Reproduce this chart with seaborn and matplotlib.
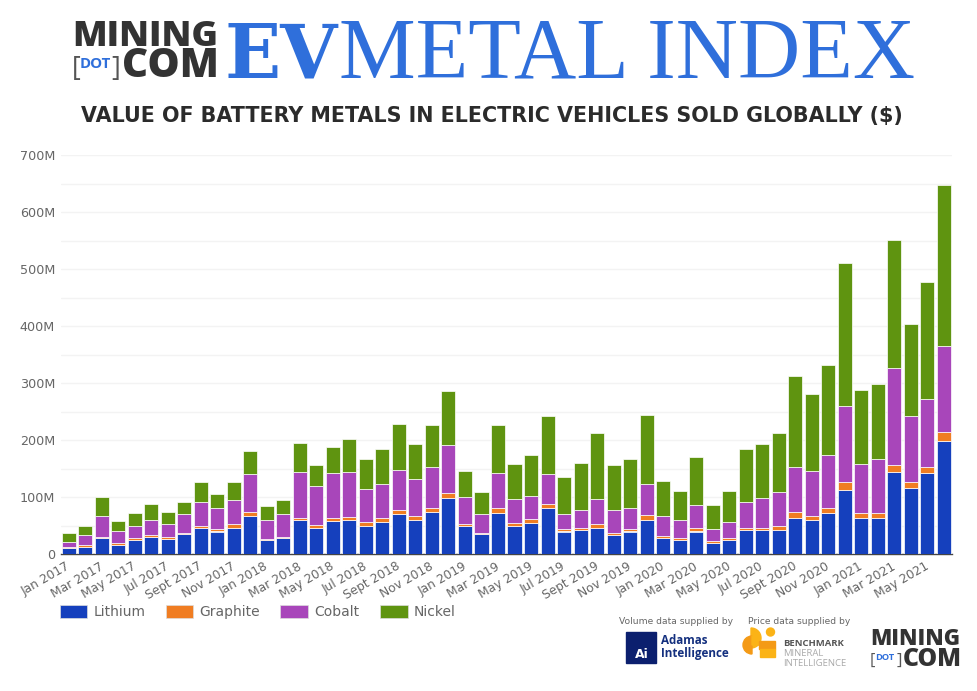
import matplotlib
matplotlib.use("Agg")
import matplotlib.pyplot as plt
from matplotlib.patches import Patch, Rectangle, Circle, Wedge
from matplotlib.transforms import ScaledTranslation
import seaborn as sns

# Values in $M, one per month
years = ["2017", "2018", "2019", "2020", "2021"]
month_names = ["Jan", "Feb", "Mar", "Apr", "May", "Jun", "Jul", "Aug", "Sept", "Oct", "Nov", "Dec"]
months = [m + " " + y for y in years for m in month_names][:54]

lithium = [10.5, 13.5, 28, 17, 25, 31, 26, 35, 46, 40, 47, 68, 25, 28, 60, 47, 58, 60, 50, 57, 70, 61, 75, 98,
           49, 35, 73, 49, 55, 81, 40, 42, 47, 33, 40, 61, 28, 25, 40, 20, 25, 42, 42, 43, 64, 60, 73, 112,
           64, 64, 145, 116, 143, 198]
graphite = [2.5, 2.5, 3, 2, 3, 3, 4, 2, 4, 4, 6, 6, 2, 2, 4, 4, 5, 5, 6, 6, 8, 7, 7, 10,
            5, 3, 9, 6, 7, 7, 5, 4, 7, 4, 5, 8, 4, 4, 6, 3, 4, 5, 5, 6, 11, 8, 9, 15,
            9, 9, 12, 10, 11, 17]
cobalt = [9, 17, 37, 22, 22, 27, 24, 33, 42, 37, 43, 66, 34, 41, 81, 69, 79, 80, 59, 60, 70, 64, 71, 83,
          46, 33, 60, 42, 40, 52, 25, 32, 43, 41, 36, 54, 36, 31, 40, 21, 28, 44, 52, 60, 79, 78, 92, 133,
          85, 95, 169, 116, 118, 151]
nickel = [15, 17, 32, 17, 22, 28, 20, 22, 34, 25, 31, 42, 23, 25, 50, 37, 47, 57, 53, 61, 81, 62, 74, 95,
          46, 38, 84, 61, 72, 103, 66, 82, 116, 78, 86, 121, 61, 51, 84, 42, 54, 93, 95, 104, 159, 135, 158, 251,
          131, 131, 226, 162, 205, 282]

metals = ["Lithium", "Graphite", "Cobalt", "Nickel"]
colors = ["#1540BD", "#F07D22", "#A846BA", "#5F9410"]
y_ticks = [0, 100, 200, 300, 400, 500, 600, 700]
y_labels = ["0", "100M", "200M", "300M", "400M", "500M", "600M", "700M"]
grid_ticks = [50, 150, 250, 350, 450, 550, 650]

sns.set_theme(style="white")
W, H = 977, 691
fig = plt.figure(figsize=(W / 100, H / 100), dpi=100, facecolor="white")

# Chart axes, pixel box
ax = fig.add_axes([60.5 / W, 1 - 554.3 / H, 891.5 / W, 399 / H])

bottom = [0] * len(months)
for name, vals, col in zip(metals, [lithium, graphite, cobalt, nickel], colors):
    sns.barplot(x=months, y=vals, bottom=bottom, color=col, saturation=1, width=0.85,
                edgecolor="white", linewidth=0.5, ax=ax, zorder=3)
    bottom = [b + v for b, v in zip(bottom, vals)]

ax.set_xlim(-0.5, 53.5)
ax.set_ylim(0, 700)
ax.set_yticks(y_ticks, y_labels)
ax.set_yticks(grid_ticks, minor=True)
ax.grid(axis="y", which="both", color="#f3f3f3", linewidth=1, zorder=0)
ax.set_axisbelow(True)
ax.tick_params(axis="y", which="both", length=0, labelsize=9.2, labelcolor="#666666", pad=4)
ax.set_xticks(range(0, 54, 2), months[::2])
ax.tick_params(axis="x", length=0, labelsize=8.8, labelcolor="#666666", pad=4)
nudge = ScaledTranslation(-2 / 72, 0, fig.dpi_scale_trans)
for lab in ax.get_xticklabels():
    lab.set_rotation(30)
    lab.set_ha("right")
    lab.set_rotation_mode("anchor")
    lab.set_transform(lab.get_transform() + nudge)
sns.despine(ax=ax, left=True, right=True, top=True)
ax.spines["bottom"].set_color("#444444")
ax.spines["bottom"].set_linewidth(1)

handles = [Patch(facecolor=c, edgecolor="#dddddd", linewidth=0.5) for c in colors]
fig.legend(handles, metals, loc="center left", bbox_to_anchor=(47 / W, 1 - 612 / H), ncol=4, frameon=False,
           fontsize=10, labelcolor="#666666", handlelength=2.0, handleheight=1.05,
           handletextpad=0.45, columnspacing=1.45)

# Overlay in pixel coordinates for the header and logos
top = fig.add_axes([0, 0, 1, 1], zorder=5)
top.set_xlim(0, W)
top.set_ylim(H, 0)
top.axis("off")
top.patch.set_alpha(0)


def logo(x, y_mid, y_bot, size, dot):
    # MINING [DOT] COM wordmark
    top.text(x, y_mid, "MINING", fontsize=size, fontweight="heavy", color="#333333", family="Open Sans", va="baseline")
    top.text(x - 0.5, y_bot - dot * 0.03, "[", fontsize=size * 0.75, color="#555555", family="Open Sans", va="baseline")
    top.text(x + dot * 0.17, y_bot - dot * 0.2, "DOT", fontsize=size * 0.42, fontweight="bold", color="#2F6FDB",
             family="Open Sans", va="baseline")
    top.text(x + dot * 0.88, y_bot - dot * 0.03, "]", fontsize=size * 0.75, color="#555555", family="Open Sans", va="baseline")
    top.text(x + dot * 1.1, y_bot, "COM", fontsize=size * 1.13, fontweight="heavy", color="#333333", family="Open Sans",
             va="baseline")


logo(72, 46, 77, 25.8, 45)
top.text(224, 77.5, "EV", fontsize=53, fontweight="bold", color="#2F6FDB", family="DejaVu Serif", va="baseline")
top.text(339, 77, "METAL INDEX", fontsize=62, color="#2F6FDB", family="Liberation Serif", va="baseline")
top.text(491.5, 116, "VALUE OF BATTERY METALS IN ELECTRIC VEHICLES SOLD GLOBALLY ($)", fontsize=14.85,
         fontweight="bold", color="#2b2b2b", family="DejaVu Sans", ha="center", va="center")

# Data supplier credits
top.text(676, 621, "Volume data supplied by", fontsize=6.6, color="#666666", ha="center", va="center")
top.text(799.5, 621, "Price data supplied by", fontsize=6.6, color="#666666", ha="center", va="center")
top.add_patch(Rectangle((626, 632), 30, 31, color="#0B1F6E"))
top.text(642, 654, "Ai", fontsize=9, fontweight="bold", color="white", ha="center", va="center")
top.text(661, 640, "Adamas", fontsize=8.4, fontweight="bold", color="#14307F", family="Open Sans", va="center")
top.text(661, 654, "Intelligence", fontsize=8.4, fontweight="bold", color="#14307F", family="Open Sans", va="center")

# Benchmark mark, rough shape
amber = "#FBB316"
top.add_patch(Wedge((751, 638), 10, -90, 90, color=amber))
top.add_patch(Wedge((752, 645), 9, 90, 270, color="#F49A16"))
top.add_patch(Wedge((752, 645), 9, -90, 0, color=amber))
top.add_patch(Circle((770.5, 632), 4, color=amber))
top.add_patch(Rectangle((759, 641), 16, 8, color="#F49A16"))
top.add_patch(Rectangle((760, 649), 15, 8, color=amber))
top.text(783, 643.5, "BENCHMARK", fontsize=6.8, fontweight="bold", color="#555555", family="Open Sans", va="center")
top.text(783, 654, "MINERAL", fontsize=6.8, color="#aaaaaa", family="Open Sans", va="center")
top.text(783, 663, "INTELLIGENCE", fontsize=6.8, color="#aaaaaa", family="Open Sans", va="center")

logo(870, 645, 666, 15.8, 30)

fig.savefig("out.png", dpi=100)
